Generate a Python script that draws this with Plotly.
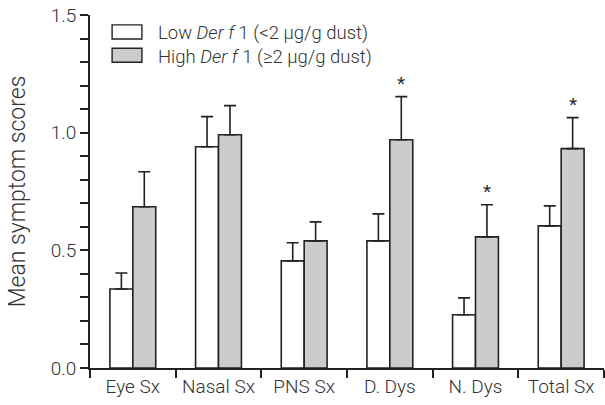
import plotly.graph_objects as go

categories = ["Eye Sx", "Nasal Sx", "PNS Sx", "D. Dys", "N. Dys", "Total Sx"]
low_mean = [0.336, 0.940, 0.455, 0.540, 0.226, 0.604]
low_upper = [0.404, 1.068, 0.532, 0.655, 0.298, 0.689]
high_mean = [0.685, 0.991, 0.540, 0.970, 0.557, 0.932]
high_upper = [0.834, 1.115, 0.621, 1.153, 0.694, 1.064]
significant = [False, False, False, True, True, True]

low_name = "Low <i>Der f</i> 1 (<2 μg/g dust)"
high_name = "High <i>Der f</i> 1 (≥2 μg/g dust)"
low_color = "white"
high_color = "#cccccc"

FONT = "Roboto"
INK = "#222222"
TXT = "#333333"

fig = go.Figure()
for name, mean, upper, color in [
    (low_name, low_mean, low_upper, low_color),
    (high_name, high_mean, high_upper, high_color),
]:
    fig.add_trace(go.Bar(
        name=name, x=categories, y=mean, showlegend=False,
        marker=dict(color=color, line=dict(color=INK, width=1.6)),
        error_y=dict(type="data", symmetric=False,
                     array=[u - m for u, m in zip(upper, mean)],
                     arrayminus=[0] * len(mean),
                     color=INK, thickness=1.6, width=6),
    ))

for i, sig in enumerate(significant):
    if sig:
        fig.add_annotation(x=i, y=high_upper[i], xshift=11.5, yshift=13,
                           text="*", showarrow=False,
                           font=dict(family="Liberation Sans", size=21, color=INK))

# legend drawn as swatches + text
for k, color in enumerate([low_color, high_color]):
    y_top = 0.972 - k * 0.066
    fig.add_shape(type="rect", xref="paper", yref="paper",
                  x0=0.043, x1=0.101, y0=y_top - 0.04, y1=y_top,
                  fillcolor=color, line=dict(color=INK, width=1.4))
fig.add_annotation(xref="paper", yref="paper", x=0.128, y=0.985,
                   xanchor="left", yanchor="top", align="left",
                   text=low_name + "<br>" + high_name, showarrow=False,
                   font=dict(family=FONT, size=18.5, color=TXT, weight=300))

fig.update_layout(
    width=605, height=405,
    margin=dict(l=90, r=1, t=15, b=37),
    paper_bgcolor="white", plot_bgcolor="white",
    barmode="group", bargap=0.465, bargroupgap=0,
    font=dict(family=FONT, size=19, color=TXT, weight=300),
    showlegend=False,
)
fig.update_xaxes(
    type="category", range=[-0.5, 5.5], tickson="boundaries", tickangle=0,
    showline=True, linecolor=INK, linewidth=1.6,
    ticks="outside", ticklen=8, tickwidth=1.6, tickcolor=INK,
    showgrid=False, zeroline=False, automargin=False,
)
fig.update_yaxes(
    range=[0, 1.5], dtick=0.5, tickformat=".1f",
    title=dict(text="Mean symptom scores", standoff=19),
    showline=True, linecolor=INK, linewidth=1.6,
    ticks="outside", ticklen=8, tickwidth=1.6, tickcolor=INK,
    minor=dict(dtick=0.1, ticks="outside", ticklen=8, tickwidth=1.6, tickcolor=INK),
    showgrid=False, zeroline=False, automargin=False,
)

fig.write_html("out.html")
